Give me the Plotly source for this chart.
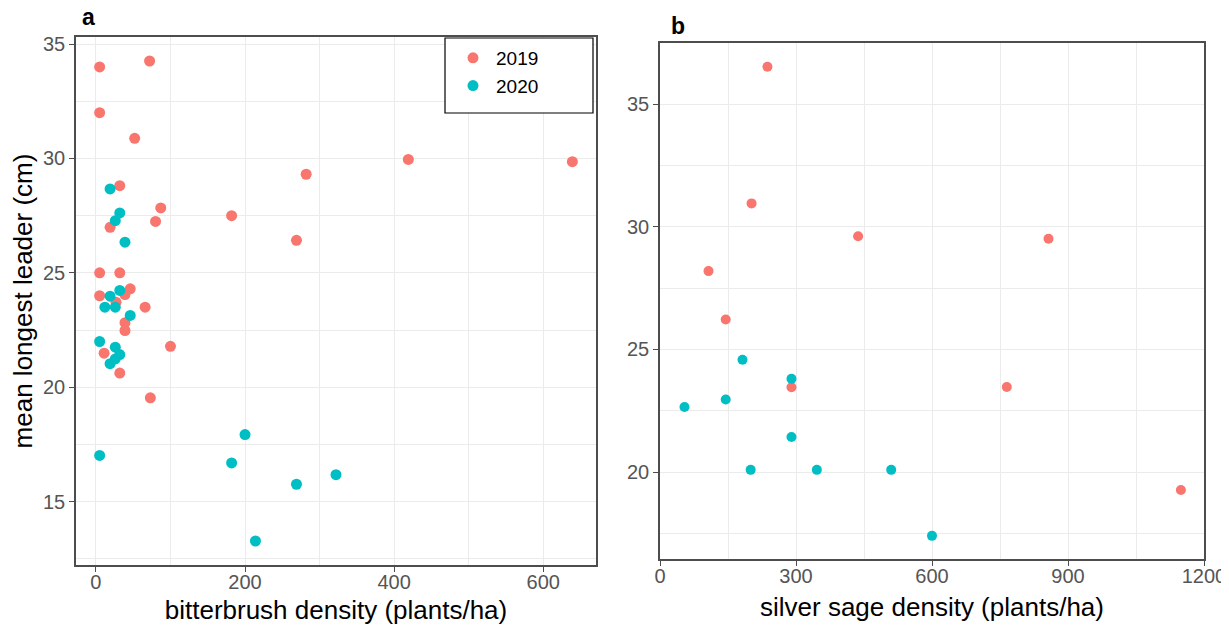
import plotly.graph_objects as go

# ---- data ----
years = ["2019", "2020"]
colors = {"2019": "#F8766D", "2020": "#00BFC4"}

# panel a: bitterbrush density vs mean longest leader
bb_x_2019 = [5, 5, 72, 52, 32, 87, 80, 182, 19, 269, 5, 32, 5, 46, 39, 27, 66, 39, 39, 11, 100, 32, 73, 282, 419, 639]
bb_y_2019 = [34.0, 32.0, 34.26, 30.88, 28.81, 27.84, 27.25, 27.5, 26.99, 26.42, 25.0, 25.0, 24.0, 24.3, 24.05, 23.72,
             23.5, 22.82, 22.48, 21.49, 21.79, 20.62, 19.54, 29.31, 29.96, 29.86]
bb_x_2020 = [19, 32, 26, 39, 19, 32, 12, 26, 46, 5, 26, 32, 26, 19, 5, 200, 182, 269, 322, 214]
bb_y_2020 = [28.67, 27.62, 27.28, 26.34, 23.98, 24.23, 23.5, 23.5, 23.14, 22.0, 21.75, 21.43, 21.24, 21.03, 17.02,
             17.93, 16.69, 15.76, 16.18, 13.28]

# panel b: silver sage density vs mean longest leader
ss_x_2019 = [237, 202, 437, 107, 145, 290, 857, 765, 1149]
ss_y_2019 = [36.52, 30.95, 29.61, 28.19, 26.22, 23.46, 29.51, 23.47, 19.27]
ss_x_2020 = [182, 290, 145, 54, 290, 200, 346, 510, 600]
ss_y_2020 = [24.58, 23.8, 22.96, 22.65, 21.43, 20.09, 20.09, 20.09, 17.4]

x_title_a = "bitterbrush density (plants/ha)"
x_title_b = "silver sage density (plants/ha)"
y_title = "mean longest leader (cm)"

OFF = 8  # default page body margin
W, H = 1229 - OFF, 625 - OFF
FONT = "Liberation Sans, Arial, sans-serif"


def px_x(p):
    return (p - OFF) / W


def px_y(p):
    return 1 - (p - OFF) / H


def expand(vals, frac=0.05):
    lo, hi = min(vals), max(vals)
    d = (hi - lo) * frac
    return [lo - d, hi + d]


fig = go.Figure()

fig.add_trace(go.Scatter(x=bb_x_2019, y=bb_y_2019, mode="markers", name=years[0],
                         marker=dict(color=colors["2019"], size=11), xaxis="x", yaxis="y",
                         legendgroup="2019"))
fig.add_trace(go.Scatter(x=bb_x_2020, y=bb_y_2020, mode="markers", name=years[1],
                         marker=dict(color=colors["2020"], size=11), xaxis="x", yaxis="y",
                         legendgroup="2020"))
fig.add_trace(go.Scatter(x=ss_x_2019, y=ss_y_2019, mode="markers", name=years[0],
                         marker=dict(color=colors["2019"], size=10), xaxis="x2", yaxis="y2",
                         legendgroup="2019", showlegend=False))
fig.add_trace(go.Scatter(x=ss_x_2020, y=ss_y_2020, mode="markers", name=years[1],
                         marker=dict(color=colors["2020"], size=10), xaxis="x2", yaxis="y2",
                         legendgroup="2020", showlegend=False))

grid_major = "#EBEBEB"
common = dict(showline=True, mirror=True, linecolor="#4D4D4D", linewidth=1.5,
              ticks="outside", ticklen=5, tickwidth=1.3, tickcolor="#4D4D4D",
              tickfont=dict(family=FONT, size=20, color="#555555"),
              showgrid=True, gridcolor=grid_major, gridwidth=1.3, zeroline=False,
              automargin=False)

fig.update_layout(
    width=W, height=H,
    margin=dict(l=0, r=0, t=0, b=0),
    paper_bgcolor="white", plot_bgcolor="white",
    font=dict(family=FONT),
    showlegend=True,
    xaxis=dict(domain=[px_x(76), px_x(596)], anchor="y",
               range=expand(bb_x_2019 + bb_x_2020), tick0=0, dtick=200,
               minor=dict(tick0=0, dtick=100, showgrid=True, gridcolor=grid_major, gridwidth=0.8, ticks=""),
               ticklabelstandoff=-7,
               title=dict(text=x_title_a, font=dict(family=FONT, size=26, color="black"), standoff=12),
               **common),
    yaxis=dict(domain=[px_y(565), px_y(37)], anchor="x",
               range=expand(bb_y_2019 + bb_y_2020), tick0=0, dtick=5,
               minor=dict(tick0=0, dtick=2.5, showgrid=True, gridcolor=grid_major, gridwidth=0.8, ticks=""),
               title=dict(text=y_title, font=dict(family=FONT, size=26, color="black"), standoff=6),
               **common),
    xaxis2=dict(domain=[px_x(660), px_x(1204)], anchor="y2",
                range=[0, 1200], tick0=0, dtick=300,
                minor=dict(tick0=0, dtick=150, showgrid=True, gridcolor=grid_major, gridwidth=0.8, ticks=""),
                ticklabelstandoff=-7,
                title=dict(text=x_title_b, font=dict(family=FONT, size=26, color="black"), standoff=12),
                **common),
    yaxis2=dict(domain=[px_y(559.3), px_y(43.3)], anchor="x2",
                range=expand(ss_y_2019 + ss_y_2020), tick0=0, dtick=5,
                minor=dict(tick0=0, dtick=2.5, showgrid=True, gridcolor=grid_major, gridwidth=0.8, ticks=""),
                **common),
    legend=dict(x=px_x(450), y=px_y(39), xanchor="left", yanchor="top",
                bgcolor="rgba(0,0,0,0)", borderwidth=0, tracegroupgap=0,
                font=dict(family=FONT, size=19, color="black"),
                itemsizing="trace", itemwidth=36),
    shapes=[dict(type="rect", xref="paper", yref="paper",
                 x0=px_x(445), x1=px_x(593), y0=px_y(113), y1=px_y(38),
                 line=dict(color="black", width=1.2), fillcolor="white", layer="above")],
    annotations=[
        dict(text="<b>a</b>", x=px_x(88), y=px_y(17), xref="paper", yref="paper",
             showarrow=False, xanchor="center", yanchor="middle",
             font=dict(family=FONT, size=23, color="black")),
        dict(text="<b>b</b>", x=px_x(678), y=px_y(26), xref="paper", yref="paper",
             showarrow=False, xanchor="center", yanchor="middle",
             font=dict(family=FONT, size=23, color="black")),
    ],
)

fig.write_html("out.html")
